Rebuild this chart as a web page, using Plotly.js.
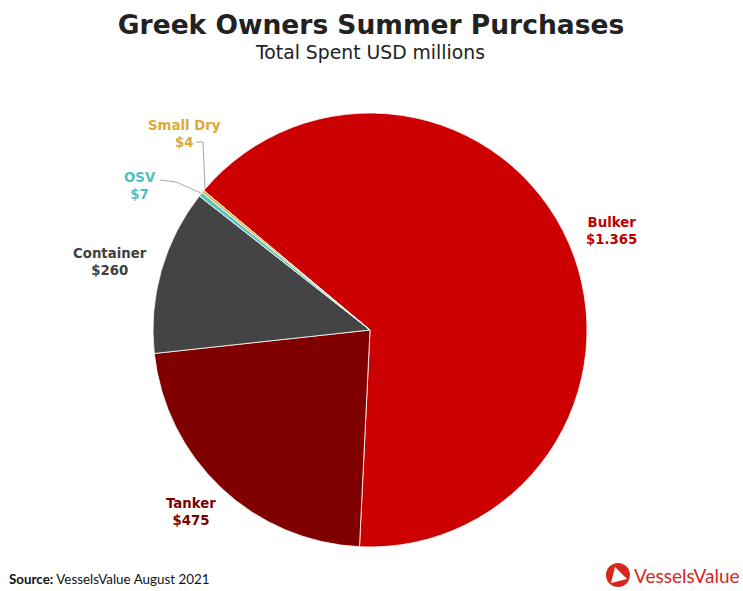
<!DOCTYPE html>
<html>
<head>
<meta charset="utf-8">
<script src="https://cdn.plot.ly/plotly-3.0.1.min.js"></script>
<style>
  html, body { margin: 0; padding: 0; background: #ffffff; }
  #chart { width: 743px; height: 591px; }
</style>
</head>
<body>
<div id="chart"></div>
<script>
// Vessel segments bought by Greek owners over the summer, USD millions
const segments = ['Bulker', 'Tanker', 'Container', 'OSV', 'Small Dry'];
const spent = [1365, 475, 260, 7, 4];
const sliceColors = ['#CC0000', '#800000', '#444444', '#5BC5C5', '#E3B23C'];
const labelColors = ['#C00000', '#7A0000', '#404040', '#4FBFBF', '#DDAA33'];

// label anchor points (pixels) and optional leader line paths (pixels)
const labelPos = [[611, 231], [191, 512], [110, 262], [140, 186], [184, 134]];
const leaders = [null, null, null,
  [[160, 180], [176, 182], [201, 193]],
  [[196, 142], [203, 142], [205, 189]]];

const W = 743, H = 591;
const px = x => x / W;
const py = y => 1 - y / H;

// thousands separator written as a dot
function fmt(v) {
  return String(v).replace(/\B(?=(\d{3})+(?!\d))/g, '.');
}

const pieCx = 370, pieCy = 330, pieR = 217;

const trace = {
  type: 'pie',
  labels: segments,
  values: spent,
  sort: false,
  direction: 'clockwise',
  rotation: -50,
  textinfo: 'none',
  hoverinfo: 'label+value',
  marker: { colors: sliceColors, line: { color: '#ffffff', width: 0.8 } },
  domain: {
    x: [px(pieCx - pieR), px(pieCx + pieR)],
    y: [py(pieCy + pieR), py(pieCy - pieR)]
  },
  showlegend: false
};

const annotations = segments.map((s, i) => ({
  xref: 'paper', yref: 'paper',
  x: px(labelPos[i][0]), y: py(labelPos[i][1]),
  xanchor: 'center', yanchor: 'middle',
  showarrow: false,
  align: 'center',
  text: '<b>' + s + '<br>$' + fmt(spent[i]) + '</b>',
  font: { family: 'DejaVu Sans, Verdana, sans-serif', size: 13.3, color: labelColors[i] }
}));

annotations.push({
  xref: 'paper', yref: 'paper', x: px(370), y: py(52),
  xanchor: 'center', yanchor: 'middle', showarrow: false,
  text: 'Total Spent USD millions',
  font: { family: 'DejaVu Sans, Verdana, sans-serif', size: 18.8, color: '#222222' }
});

annotations.push({
  xref: 'paper', yref: 'paper', x: px(7), y: py(579),
  xanchor: 'left', yanchor: 'middle', showarrow: false,
  text: '<b>Source:</b> VesselsValue August 2021',
  font: { family: 'Lato, sans-serif', size: 13.4, color: '#111111' }
});

annotations.push({
  xref: 'paper', yref: 'paper', x: px(632), y: py(575),
  xanchor: 'left', yanchor: 'middle', showarrow: false,
  text: 'VesselsValue',
  font: { family: 'Lato, sans-serif', size: 19, color: '#D7261E' }
});

const shapes = [];
leaders.forEach(pts => {
  if (!pts) return;
  const path = pts.map((p, k) => (k ? 'L' : 'M') + px(p[0]) + ',' + py(p[1])).join(' ');
  shapes.push({
    type: 'path', xref: 'paper', yref: 'paper', path: path,
    line: { color: '#A6A6A6', width: 1 }
  });
});

// logo mark: red disc with a white triangle
shapes.push({
  type: 'circle', xref: 'paper', yref: 'paper',
  x0: px(606), x1: px(630), y0: py(587), y1: py(563),
  fillcolor: '#D7261E', line: { width: 0 }
});
shapes.push({
  type: 'path', xref: 'paper', yref: 'paper',
  path: 'M' + px(611) + ',' + py(583) + ' L' + px(615) + ',' + py(567) +
        ' L' + px(627) + ',' + py(579) + ' Z',
  fillcolor: '#ffffff', line: { width: 0 }
});

const layout = {
  width: W, height: H,
  margin: { l: 0, r: 0, t: 0, b: 0 },
  paper_bgcolor: '#ffffff',
  title: {
    text: '<b>Greek Owners Summer Purchases</b>',
    x: px(371), xanchor: 'center',
    y: py(25), yref: 'container', yanchor: 'middle',
    font: { family: 'DejaVu Sans, Verdana, sans-serif', size: 26.5, color: '#222222' }
  },
  annotations: annotations,
  shapes: shapes
};

Plotly.newPlot('chart', [trace], layout, { displayModeBar: false, staticPlot: true });
</script>
</body>
</html>
